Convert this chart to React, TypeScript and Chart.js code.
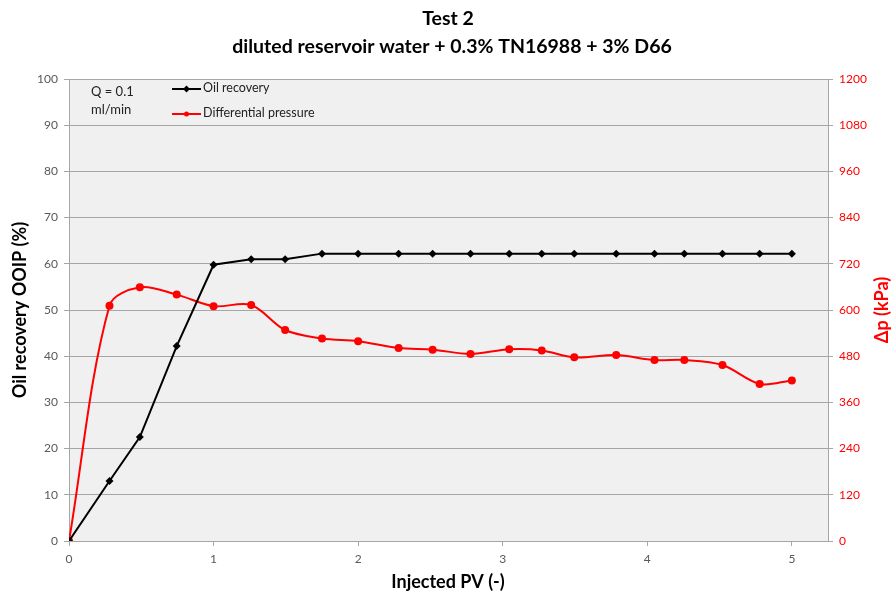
import React, { useEffect, useRef } from "react";
import { Chart, registerables } from "chart.js";

Chart.register(...registerables);

const titleLines = ["Test 2", "diluted reservoir water + 0.3% TN16988 + 3% D66"];
const injectedPV = [0, 0.28, 0.49, 0.745, 1.0, 1.26, 1.495, 1.75, 2.0, 2.28, 2.515, 2.777, 3.045, 3.27, 3.495, 3.785, 4.05, 4.256, 4.52, 4.777, 5.0];
const oilRecovery = [0, 13.0, 22.5, 42.2, 59.8, 61.0, 61.0, 62.2, 62.2, 62.2, 62.2, 62.2, 62.2, 62.2, 62.2, 62.2, 62.2, 62.2, 62.2, 62.2, 62.2];
const diffPressure = [0, 611, 659, 640, 610, 613, 548, 526, 519, 501, 497, 486, 498, 495, 477, 483, 470, 470, 457, 408, 417];
const seriesNames = ["Oil recovery", "Differential pressure"];
const noteLines = ["Q = 0.1", "ml/min"];
const FONT = "Lato, 'Open Sans', sans-serif";

const textPlugin = {
  id: "customText",
  beforeDraw(chart: any) {
    const { ctx, chartArea: a } = chart;
    ctx.save();
    ctx.fillStyle = "#f0f0f0";
    ctx.fillRect(a.left, a.top, a.right - a.left, a.bottom - a.top);
    ctx.restore();
  },
  afterDraw(chart: any) {
    const { ctx, chartArea: a } = chart;
    ctx.save();
    ctx.textAlign = "center";
    ctx.textBaseline = "middle";
    ctx.fillStyle = "#000";
    ctx.font = `bold 19.5px ${FONT}`;
    ctx.fillText(titleLines[0], 448, 19);
    ctx.fillText(titleLines[1], 452, 47);

    ctx.font = `bold 18px ${FONT}`;
    ctx.fillText("Injected PV (-)", 448, 582);
    ctx.save();
    ctx.translate(20, (a.top + a.bottom) / 2);
    ctx.rotate(-Math.PI / 2);
    ctx.fillText("Oil recovery OOIP (%)", 0, 0);
    ctx.restore();
    ctx.save();
    ctx.fillStyle = "#ff0000";
    ctx.translate(882, (a.top + a.bottom) / 2);
    ctx.rotate(-Math.PI / 2);
    ctx.fillText("\u0394p (kPa)", 0, 0);
    ctx.restore();

    // note
    ctx.textAlign = "left";
    ctx.fillStyle = "#222";
    ctx.font = `13px ${FONT}`;
    ctx.fillText(noteLines[0], 91, 92);
    ctx.fillText(noteLines[1], 91, 110);

    // legend
    ctx.font = `12.5px ${FONT}`;
    const items = [
      { name: seriesNames[0], color: "#000000", y: 89, diamond: true },
      { name: seriesNames[1], color: "#ff0000", y: 114, diamond: false },
    ];
    items.forEach((it) => {
      ctx.strokeStyle = it.color;
      ctx.lineWidth = 2;
      ctx.beginPath();
      ctx.moveTo(172, it.y);
      ctx.lineTo(201, it.y);
      ctx.stroke();
      ctx.fillStyle = it.color;
      ctx.beginPath();
      if (it.diamond) {
        ctx.moveTo(186.5, it.y - 3.5);
        ctx.lineTo(190, it.y);
        ctx.lineTo(186.5, it.y + 3.5);
        ctx.lineTo(183, it.y);
        ctx.closePath();
      } else {
        ctx.arc(186.5, it.y, 2.5, 0, Math.PI * 2);
      }
      ctx.fill();
      ctx.fillStyle = "#222";
      ctx.fillText(it.name, 203, it.y - 1);
    });
    ctx.restore();
  },
};

export default function App() {
  const ref = useRef<HTMLCanvasElement>(null);
  useEffect(() => {
    document.body.style.margin = "0";
    const chart = new Chart(ref.current as HTMLCanvasElement, {
      type: "line",
      data: {
        datasets: [
          {
            label: seriesNames[0],
            data: injectedPV.map((x, i) => ({ x, y: oilRecovery[i] })),
            borderColor: "#000000",
            backgroundColor: "#000000",
            borderWidth: 2,
            pointStyle: "rectRot",
            pointRadius: 4,
            pointBorderWidth: 0,
            tension: 0,
            yAxisID: "y",
          },
          {
            label: seriesNames[1],
            data: injectedPV.map((x, i) => ({ x, y: diffPressure[i] })),
            borderColor: "#ff0000",
            backgroundColor: "#ff0000",
            borderWidth: 2,
            pointStyle: "circle",
            pointRadius: 4,
            pointBorderWidth: 0,
            tension: 0.33,
            yAxisID: "y2",
          },
        ],
      },
      options: {
        animation: false,
        responsive: false,
        layout: { padding: { top: 79, left: 0, right: 0, bottom: 0 } },
        plugins: { legend: { display: false }, title: { display: false }, tooltip: { enabled: false } },
        scales: {
          x: {
            type: "linear",
            min: 0,
            max: 5.25,
            afterFit: (s: any) => { s.height = 53; },
            ticks: { stepSize: 1, includeBounds: false, color: "#595959", font: { family: FONT, size: 12 }, padding: 6 },
            grid: { drawOnChartArea: false, drawTicks: true, tickLength: 5, color: "#a6a6a6" },
            border: { display: true, color: "#a6a6a6", width: 1 },
          },
          y: {
            type: "linear",
            position: "left",
            min: 0,
            max: 100,
            afterFit: (s: any) => { s.width = 69; },
            ticks: { stepSize: 10, color: "#595959", font: { family: FONT, size: 12 }, padding: 6 },
            grid: { color: "#a6a6a6", tickLength: 5 },
            border: { display: true, color: "#a6a6a6", width: 1 },
          },
          y2: {
            type: "linear",
            position: "right",
            min: 0,
            max: 1200,
            afterFit: (s: any) => { s.width = 68; },
            ticks: { stepSize: 120, color: "#ff0000", font: { family: FONT, size: 12 }, padding: 6, callback: (v: any) => String(v) },
            grid: { drawOnChartArea: false, color: "#a6a6a6", tickLength: 5 },
            border: { display: true, color: "#a6a6a6", width: 1 },
          },
        },
      } as any,
      plugins: [textPlugin],
    });
    return () => chart.destroy();
  }, []);
  return (
    <div style={{ position: "absolute", left: 0, top: 0, width: 896, height: 594, background: "#fff" }}>
      <canvas ref={ref} width={896} height={594} />
    </div>
  );
}
